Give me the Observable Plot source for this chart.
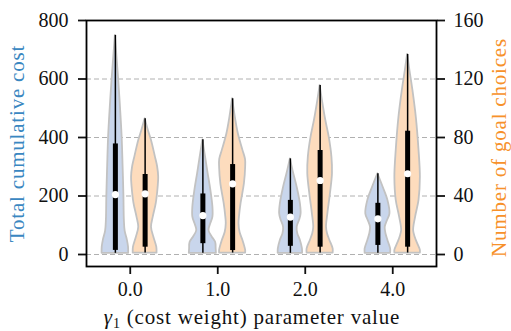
<!DOCTYPE html>
<html>
<head>
<meta charset="utf-8">
<script src="https://cdn.jsdelivr.net/npm/d3@7"></script>
<script src="https://cdn.jsdelivr.net/npm/@observablehq/plot@0.6"></script>
<style>
  body { margin: 0; background: #fff; }
</style>
</head>
<body>
<div id="chart"></div>
<script>
// γ1 settings on the x axis
const categories = ["0.0", "1.0", "2.0", "4.0"];
const costTicks = [0, 200, 400, 600, 800];
const goalTicks = [0, 40, 80, 120, 160];

// Violin outlines, bottom to top: [value, relative density]
const costDensity = [
  [[4, 0.98], [25, 0.97], [50, 0.88], [80, 0.72], [120, 0.66], [200, 0.63], [300, 0.57], [400, 0.5], [500, 0.38], [600, 0.24], [680, 0.11], [749, 0]],
  [[4, 1.0], [19, 0.98], [42, 0.94], [60, 0.68], [82, 0.45], [105, 0.58], [128, 0.74], [162, 0.74], [219, 0.59], [276, 0.39], [333, 0.2], [392, 0]],
  [[4, 0.9], [19, 0.89], [48, 0.74], [70, 0.55], [93, 0.5], [120, 0.7], [139, 0.79], [173, 0.74], [230, 0.5], [276, 0.25], [327, 0]],
  [[4, 0.94], [19, 0.94], [48, 0.74], [70, 0.6], [93, 0.54], [115, 0.7], [139, 0.89], [185, 0.74], [230, 0.39], [276, 0]]
];
const goalDensity = [
  [[1, 0.88], [5, 0.86], [12, 0.64], [18.6, 0.47], [25.6, 0.6], [34.8, 0.82], [46, 0.96], [52.8, 1.0], [60, 0.92], [66.6, 0.76], [78, 0.47], [84.8, 0.24], [92.8, 0]],
  [[1, 0.96], [2.8, 0.96], [9.6, 0.76], [15, 0.55], [21, 0.47], [27, 0.52], [34.6, 0.62], [48.4, 0.87], [59.6, 0.96], [65, 0.95], [71.2, 0.76], [82.6, 0.42], [93.8, 0.2], [106.5, 0]],
  [[1, 0.96], [3.8, 0.96], [9.6, 0.72], [14, 0.55], [18.6, 0.47], [27.8, 0.57], [41.4, 0.76], [55.2, 0.91], [66.6, 0.87], [80.2, 0.67], [91.6, 0.42], [105.2, 0.17], [115.6, 0]],
  [[1, 0.94], [2.8, 0.94], [7.4, 0.74], [12, 0.55], [16.4, 0.44], [25.6, 0.59], [37, 0.84], [52.8, 0.94], [71.2, 0.84], [93.8, 0.64], [112.2, 0.39], [125.8, 0.17], [136.8, 0]]
];

// Box summaries
const costMin = [4, 4, 4, 4];
const costQ1 = [14, 37, 28, 31];
const costMedian = [205, 133, 128, 122];
const costQ3 = [378, 207, 185, 175];
const costMax = [749, 392, 327, 276];

const goalMin = [1, 1, 1, 1];
const goalQ1 = [5, 2.7, 5, 5];
const goalMedian = [41.5, 48.3, 50.6, 55.2];
const goalQ3 = [54.7, 61.5, 71.1, 84.3];
const goalMax = [92.8, 106.5, 115.6, 136.8];

// goal counts share the cost axis: 160 goals ↔ 800 cost
const ratio = 800 / 160;
const offset = 0.17;   // distance of each violin from its category centre
const spread = 0.155;  // half-width of a violin at density 1

function violinRows(profiles, side, k) {
  return profiles.flatMap((p, i) => p.map(([v, d]) => ({
    violin: i,
    y: v * k,
    x1: i + side * offset - d * spread,
    x2: i + side * offset + d * spread
  })));
}
function boxRows(side, mn, q1, md, q3, mx, k) {
  return categories.map((c, i) => ({
    x: i + side * offset,
    lo: mn[i] * k, q1: q1[i] * k, med: md[i] * k, q3: q3[i] * k, hi: mx[i] * k
  }));
}

const costRows = violinRows(costDensity, -1, 1);
const goalRows = violinRows(goalDensity, 1, ratio);
const boxes = [
  ...boxRows(-1, costMin, costQ1, costMedian, costQ3, costMax, 1),
  ...boxRows(1, goalMin, goalQ1, goalMedian, goalQ3, goalMax, ratio)
];

const labelStyle = {fontSize: 21, letterSpacing: "0.8px"};

const chart = Plot.plot({
  width: 511,
  height: 331,
  marginLeft: 86,
  marginRight: 75,
  marginTop: 20,
  marginBottom: 65,
  style: {fontFamily: "Liberation Serif", fontSize: "20px", color: "#111", background: "#fff"},
  x: {type: "linear", domain: [-0.5, 3.5]},
  y: {domain: [-41, 800]},
  marks: [
    Plot.gridY(costTicks.slice(0, 4), {stroke: "#b0b0b0", strokeOpacity: 1, strokeDasharray: "5,3", strokeWidth: 1}),
    Plot.areaX(costRows, {y: "y", x1: "x1", x2: "x2", z: "violin", fill: "#c9d6ec", stroke: "#c2c2c2", strokeWidth: 1.8, curve: "catmull-rom"}),
    Plot.areaX(goalRows, {y: "y", x1: "x1", x2: "x2", z: "violin", fill: "#fddcbd", stroke: "#c2c2c2", strokeWidth: 1.8, curve: "catmull-rom"}),
    Plot.ruleX(boxes, {x: "x", y1: "lo", y2: "hi", stroke: "black", strokeWidth: 1.5}),
    Plot.ruleX(boxes, {x: "x", y1: "q1", y2: "q3", stroke: "black", strokeWidth: 5}),
    Plot.dot(boxes, {x: "x", y: "med", r: 3.6, fill: "white"}),
    Plot.axisX({ticks: [0, 1, 2, 3], tickFormat: i => categories[i], tickSize: 8, tickPadding: 7, strokeWidth: 1.8, label: null}),
    Plot.axisY({ticks: costTicks, tickSize: 8, tickPadding: 10, strokeWidth: 1.8, label: null}),
    Plot.axisY({anchor: "right", ticks: goalTicks.map(g => g * ratio), tickFormat: d => String(d / ratio), tickSize: 8, tickPadding: 9, strokeWidth: 1.8, label: null}),
    Plot.frame({stroke: "black", strokeWidth: 1.8}),
    Plot.text(["Total cumulative cost"], {frameAnchor: "left", textAnchor: "middle", dx: -69, rotate: -90, fill: "#3a87c1", fontSize: labelStyle.fontSize}),
    Plot.text(["Number of goal choices"], {frameAnchor: "right", textAnchor: "middle", dx: 63, dy: 4, rotate: -90, fill: "#f7912a", fontSize: labelStyle.fontSize})
  ]
});

document.getElementById("chart").appendChild(chart);

// widen the axis titles slightly
d3.select(chart).selectAll("g[aria-label=text] text").attr("letter-spacing", labelStyle.letterSpacing);

// x-axis title with a subscripted γ₁
const title = d3.select(chart).append("text")
  .attr("x", 252)
  .attr("y", 324)
  .attr("text-anchor", "middle")
  .attr("font-family", "Liberation Serif")
  .attr("font-size", labelStyle.fontSize)
  .attr("letter-spacing", labelStyle.letterSpacing)
  .attr("fill", "#111");
title.append("tspan").attr("font-style", "italic").text("γ");
title.append("tspan").attr("font-size", 14).attr("dy", 4).text("1");
title.append("tspan").attr("dy", -4).text(" (cost weight) parameter value");
</script>
</body>
</html>
